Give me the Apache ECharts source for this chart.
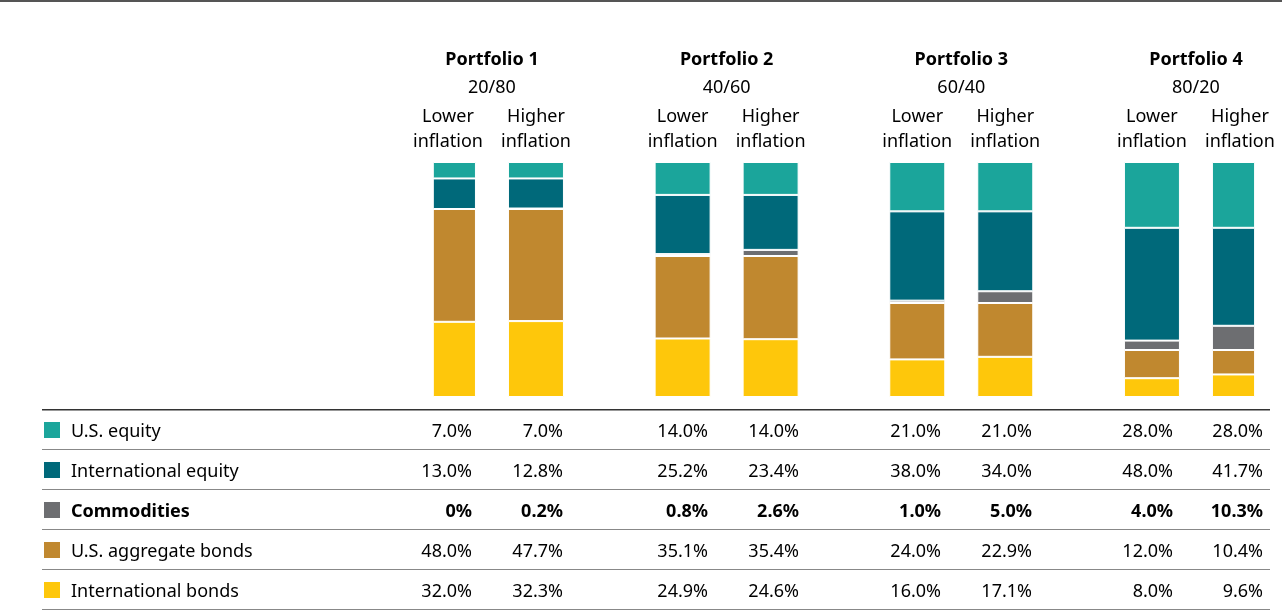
<!DOCTYPE html>
<html lang="en">
<head>
    <meta charset="UTF-8">
    <title>Portfolios</title>
    <style>
        body { margin: 0; background: #fff; }
        #chart { width: 1282px; height: 612px; }
    </style>
</head>
<body>
<div id="chart"></div>
<script src="https://cdn.jsdelivr.net/npm/echarts@6/dist/echarts.min.js"></script>
<script>
    var portfolios = ['Portfolio 1', 'Portfolio 2', 'Portfolio 3', 'Portfolio 4'];
    var mixes = ['20/80', '40/60', '60/40', '80/20'];
    var scenarios = ['Lower\ninflation', 'Higher\ninflation'];
    var assets = ['U.S. equity', 'International equity', 'Commodities', 'U.S. aggregate bonds', 'International bonds'];
    var colors = ['#1ba59b', '#00697a', '#6d6e71', '#c0882f', '#fec70b'];

    // one value per bar: P1 low, P1 high, P2 low, P2 high, ...
    var usEquity = [7.0, 7.0, 14.0, 14.0, 21.0, 21.0, 28.0, 28.0];
    var intlEquity = [13.0, 12.8, 25.2, 23.4, 38.0, 34.0, 48.0, 41.7];
    var commodities = [0, 0.2, 0.8, 2.6, 1.0, 5.0, 4.0, 10.3];
    var usBonds = [48.0, 47.7, 35.1, 35.4, 24.0, 22.9, 12.0, 10.4];
    var intlBonds = [32.0, 32.3, 24.9, 24.6, 16.0, 17.1, 8.0, 9.6];
    var labels = [
        ['7.0%', '7.0%', '14.0%', '14.0%', '21.0%', '21.0%', '28.0%', '28.0%'],
        ['13.0%', '12.8%', '25.2%', '23.4%', '38.0%', '34.0%', '48.0%', '41.7%'],
        ['0%', '0.2%', '0.8%', '2.6%', '1.0%', '5.0%', '4.0%', '10.3%'],
        ['48.0%', '47.7%', '35.1%', '35.4%', '24.0%', '22.9%', '12.0%', '10.4%'],
        ['32.0%', '32.3%', '24.9%', '24.6%', '16.0%', '17.1%', '8.0%', '9.6%']
    ];

    // bars sit in these slots of the category axis, the rest are gaps
    var slots = [0, 3, 8, 11, 16, 19, 24, 27];
    var nSlots = 28;
    var cats = [];
    for (var i = 0; i < nSlots; i++) cats.push('c' + i);

    function spread(values) {
        var out = cats.map(function () { return '-'; });
        slots.forEach(function (s, k) { out[s] = values[k]; });
        return out;
    }

    // stack bottom-up: intl bonds, US bonds, commodities, intl equity, US equity
    var stackOrder = [4, 3, 2, 1, 0];
    var seriesValues = [usEquity, intlEquity, commodities, usBonds, intlBonds];

    var font = 'Noto Sans';
    var chart = echarts.init(document.getElementById('chart'));
    chart.setOption({
        animation: false,
        grid: { left: 433.3, width: 821.3, top: 162, bottom: 215 },
        xAxis: { type: 'category', data: cats, show: false },
        yAxis: { type: 'value', min: 0, max: 100, show: false },
        series: stackOrder.map(function (idx) {
            return {
                type: 'bar',
                stack: 'all',
                name: assets[idx],
                barWidth: 56,
                data: spread(seriesValues[idx]),
                itemStyle: { color: colors[idx], borderColor: '#fff', borderWidth: 1 }
            };
        })
    });

    var g = [];
    g.push({ type: 'rect', shape: { x: 0, y: 0, width: 1282, height: 2 }, style: { fill: '#555' } });
    var xs = slots.map(function (s) { return chart.convertToPixel({ xAxisIndex: 0 }, 'c' + s); });

    portfolios.forEach(function (p, k) {
        var cx = (xs[2 * k] + xs[2 * k + 1]) / 2;
        g.push({ type: 'text', x: cx, y: 60, style: { text: p, font: 'bold 18px ' + font, fill: '#000', align: 'center', verticalAlign: 'middle' } });
        g.push({ type: 'text', x: cx, y: 88, style: { text: mixes[k], font: '18px ' + font, fill: '#000', align: 'center', verticalAlign: 'middle' } });
        for (var j = 0; j < 2; j++) {
            g.push({ type: 'text', x: xs[2 * k + j], y: 129, style: { text: scenarios[j], font: '18px ' + font, lineHeight: 25, fill: '#000', align: 'center', verticalAlign: 'middle' } });
        }
    });

    var rightEdges = [472, 563, 708, 799, 941, 1032, 1173, 1263];
    var lineYs = [409, 449, 489, 529, 569, 609];
    lineYs.forEach(function (y, i) {
        g.push({ type: 'rect', shape: { x: 42, y: y, width: 1228, height: i === 0 ? 1.5 : 1 }, style: { fill: i === 0 ? '#333' : '#888' } });
    });
    assets.forEach(function (a, r) {
        var cy = 431 + r * 40;
        var bold = r === 2 ? 'bold ' : '';
        g.push({ type: 'rect', shape: { x: 44, y: cy - 9, width: 16, height: 16 }, style: { fill: colors[r] } });
        g.push({ type: 'text', x: 71, y: cy + 1, style: { text: a, font: bold + '18px ' + font, fill: '#000', verticalAlign: 'middle' } });
        labels[r].forEach(function (t, c) {
            g.push({ type: 'text', x: rightEdges[c], y: cy + 1, style: { text: t, font: bold + '18px ' + font, fill: '#000', align: 'right', verticalAlign: 'middle' } });
        });
    });
    chart.setOption({ graphic: g });
</script>
</body>
</html>
